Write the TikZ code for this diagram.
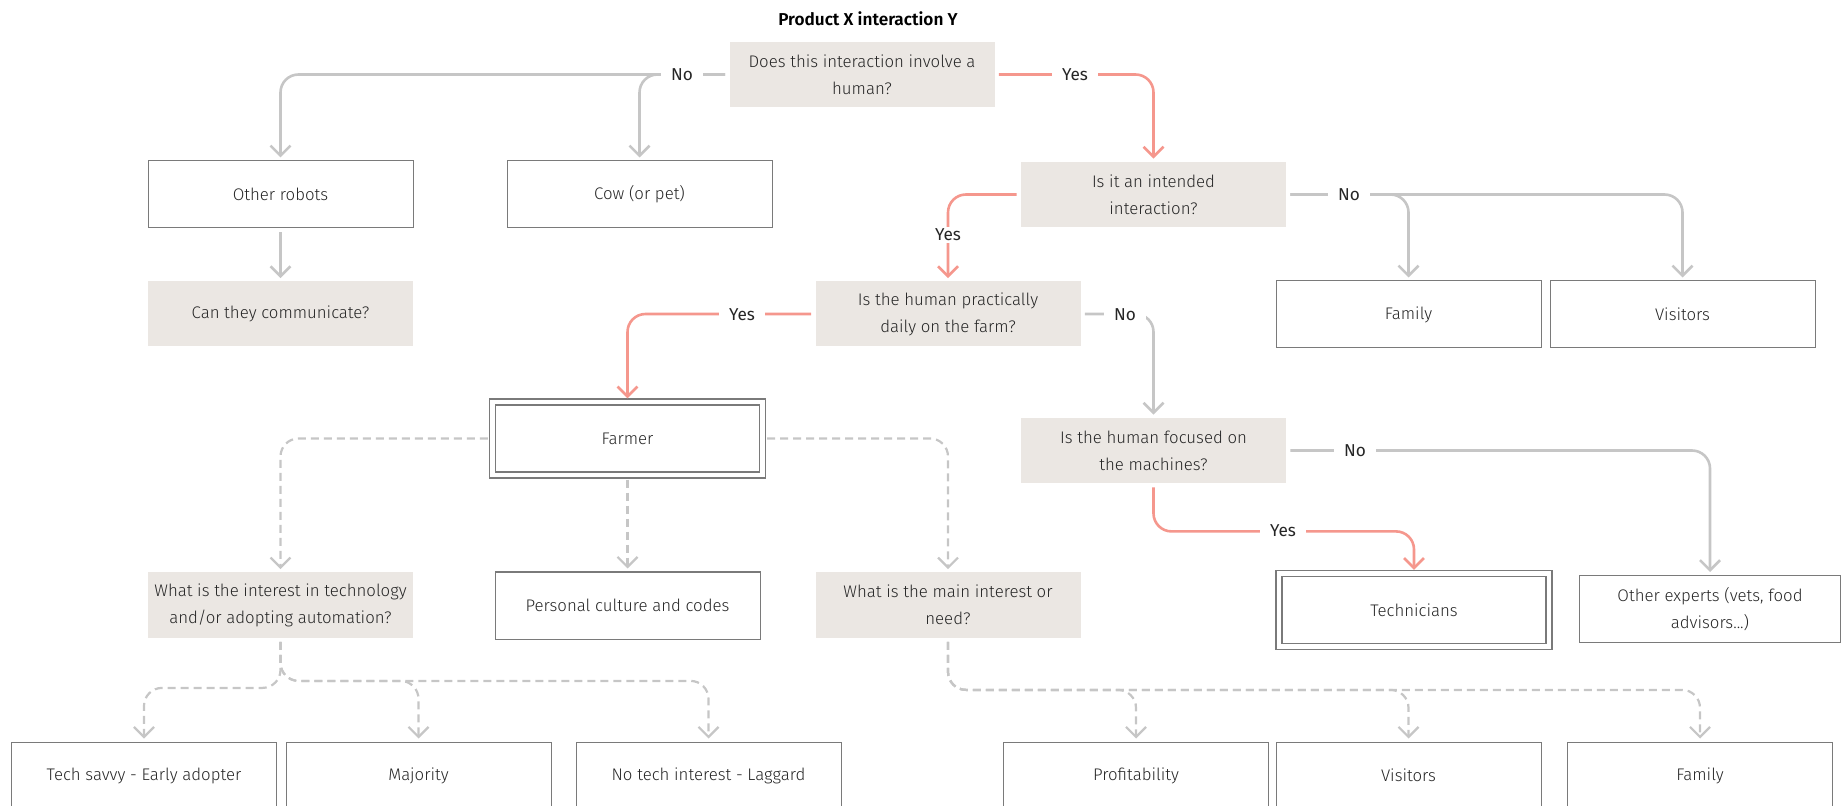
\documentclass[tikz,border=0pt]{standalone}
\usepackage{fontspec}
\setmainfont{Fira Sans}[UprightFont={* Light}, BoldFont={* SemiBold}]
\newfontfamily\lblfont{Fira Sans}
\usetikzlibrary{arrows.meta,positioning}
\definecolor{colorq}{HTML}{EBE7E3}
\definecolor{colorbox}{HTML}{7A7A7A}
\definecolor{colorno}{HTML}{C6C6C6}
\definecolor{coloryes}{HTML}{F5978D}
\definecolor{colortxt}{HTML}{262626}
\tikzset{
  qbox/.style={fill=colorq, minimum width=132.5pt, minimum height=32.5pt, align=center, inner sep=2pt},
  abox/.style={draw=colorbox, line width=0.5pt, fill=white, minimum width=132.5pt, minimum height=33.5pt, align=center},
  dbox/.style={abox, double=white, double distance=2.4pt, line width=0.6pt, minimum width=135pt, minimum height=36.5pt},
  lbl/.style={fill=white, inner xsep=5pt, inner ysep=1pt, font=\lblfont\fontsize{8.6}{10}\selectfont},
  edgeno/.style={colorno, line width=1.3pt, rounded corners=9pt, shorten <=2pt, shorten >=1.5pt,
    -{Straight Barb[length=5pt,width=10pt]}},
  edgeyes/.style={edgeno, coloryes},
  edgemaybe/.style={edgeno, dash pattern=on 4pt off 2.5pt, line width=1.1pt}
}

\begin{document}
\begin{tikzpicture}[x=0.5pt, y=-0.5pt, font=\fontsize{8.4}{13.5}\selectfont, text=colortxt]
\useasboundingbox (0,0) rectangle (1841,806);

\node[font=\bfseries\fontsize{8.6}{10}\selectfont, text=black](title) at (868,19) {Product X interaction Y};

% questions
\node[qbox](human) at (862,74.5) {Does this interaction involve a\\human?};
\node[qbox](intended) at (1153.5,194.5) {Is it an intended\\interaction?};
\node[qbox](communicate) at (280.5,314) {Can they communicate?};
\node[qbox](daily) at (948,314) {Is the human practically\\daily on the farm?};
\node[qbox](focused) at (1153.5,450.5) {Is the human focused on\\the machines?};
\node[qbox](techint) at (280.5,605) {What is the interest in technology\\and/or adopting automation?};
\node[qbox](mainint) at (948,605) {What is the main interest or\\need?};

% answers
\node[abox](robots) at (280.5,194.5) {Other robots};
\node[abox](cow) at (639.5,194.5) {Cow (or pet)};
\node[abox](family) at (1408.5,314.5) {Family};
\node[abox](visitors) at (1682.5,314.5) {Visitors};
\node[dbox](farmer) at (627.5,438.5) {Farmer};
\node[abox](culture) at (627.5,605.5) {Personal culture and codes};
\node[dbox](technicians) at (1414,610) {Technicians};
\node[abox, minimum width=130.5pt](experts) at (1710,609) {Other experts (vets, food\\advisors...)};

% bottom row
\node[abox](savvy) at (144,775.5) {Tech savvy - Early adopter};
\node[abox](majority) at (418.5,775.5) {Majority};
\node[abox](laggard) at (708.5,775.5) {No tech interest - Laggard};
\node[abox](profit) at (1136,775.5) {Profitability};
\node[abox](visitorsb) at (1408.5,775.5) {Visitors};
\node[abox](familyb) at (1700,775.5) {Family};

% connectors
\draw[edgeno] (human.west) -| (robots.north);
\draw[edgeno] (human.west) -| (cow.north);
\draw[edgeyes] (human.east) -| (intended.north);
\draw[edgeyes] (intended.west) -| (daily.north);
\draw[edgeno] (intended.east) -| (family.north);
\draw[edgeno] (intended.east) -| (visitors.north);
\draw[edgeno] (robots.south) -- (communicate.north);
\draw[edgeyes] (daily.west) -| (farmer.north);
\draw[edgeno] (daily.east) -| (focused.north);
\draw[edgemaybe] (farmer.west) -| (techint.north);
\draw[edgemaybe] (farmer.south) -- (culture.north);
\draw[edgemaybe] (farmer.east) -| (mainint.north);
\draw[edgeno] (focused.east) -| (experts.north);
\draw[edgeyes] (focused.south) -- ++(0,48) -| (technicians.north);

\draw[edgemaybe] (techint.south) -- ++(0,50) -| (savvy.north);
\draw[edgemaybe] (techint.south) -- ++(0,43) -| (majority.north);
\draw[edgemaybe] (techint.south) -- ++(0,43) -| (laggard.north);
\draw[edgemaybe] (mainint.south) -- ++(0,52) -| (profit.north);
\draw[edgemaybe] (mainint.south) -- ++(0,52) -| (visitorsb.north);
\draw[edgemaybe] (mainint.south) -- ++(0,52) -| (familyb.north);

% labels
\node[lbl](noA) at (682,75) {No};
\node[lbl](yesA) at (1075,75) {Yes};
\node[lbl](noB) at (1349,195) {No};
\node[lbl](yesB) at (948,235) {Yes};
\node[lbl](yesC) at (742,315) {Yes};
\node[lbl](noC) at (1125,315) {No};
\node[lbl](noD) at (1355,451) {No};
\node[lbl](yesD) at (1283,531) {Yes};
\end{tikzpicture}
\end{document}
